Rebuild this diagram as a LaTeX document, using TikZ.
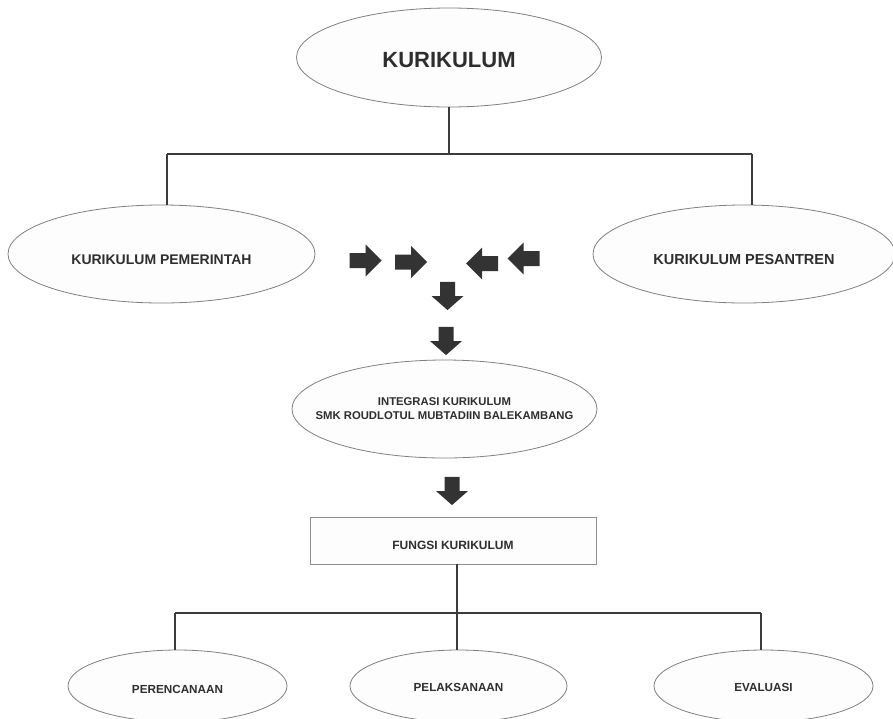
\documentclass[tikz,border=0pt]{standalone}
\usepackage{fontspec}
\setmainfont{Liberation Sans}
\usetikzlibrary{shapes.geometric}
\definecolor{linec}{HTML}{3C3C3C}
\definecolor{borderc}{HTML}{808080}
\definecolor{fillc}{HTML}{FDFDFD}
\definecolor{textc}{HTML}{2E2E2E}
\definecolor{arrowc}{HTML}{333333}
\tikzset{
  oval/.style={ellipse, draw=borderc, line width=0.8pt, fill=fillc, inner sep=0pt, text=textc, font=\bfseries, align=center},
  boxnode/.style={rectangle, draw=borderc!90, line width=1pt, fill=fillc, inner sep=0pt, text=textc, font=\bfseries},
  conn/.style={draw=linec, line width=1.8pt},
  blockarrow/.pic={\fill[arrowc] (-16,-7.5) -- (0,-7.5) -- (0,-16) -- (16,0) -- (0,16) -- (0,7.5) -- (-16,7.5) -- cycle;}
}
\begin{document}
\begin{tikzpicture}[x=1pt,y=-1pt]
\useasboundingbox (0,0) rectangle (893,718);
\fill[white] (0,0) rectangle (893,718);

% nodes
\node[oval, minimum width=305pt, minimum height=99pt, font=\bfseries\fontsize{22}{24}\selectfont, text height=20pt, text depth=0pt] (kur) at (449,57.5) {KURIKULUM};
\node[oval, minimum width=307pt, minimum height=98pt, font=\bfseries\fontsize{14}{16}\selectfont, text height=20pt, text depth=0pt] (pem) at (161.5,254) {KURIKULUM PEMERINTAH};
\node[oval, minimum width=302pt, minimum height=98pt, font=\bfseries\fontsize{14.5}{16}\selectfont, text height=20pt, text depth=0pt] (pes) at (744,254) {KURIKULUM PESANTREN};
\node[oval, minimum width=305pt, minimum height=98pt, inner xsep=-40pt, font=\bfseries\fontsize{11.3}{14}\selectfont] (integ) at (444.5,409) {INTEGRASI KURIKULUM\\SMK ROUDLOTUL MUBTADIIN BALEKAMBANG};
\node[boxnode, minimum width=286pt, minimum height=47pt, font=\bfseries\fontsize{12}{14}\selectfont, text height=17pt, text depth=0pt] (fungsi) at (453,540.5) {FUNGSI KURIKULUM};
\node[oval, minimum width=219pt, minimum height=72pt, font=\bfseries\fontsize{11.7}{14}\selectfont, text height=14pt, text depth=0pt] (per) at (177.5,686) {PERENCANAAN};
\node[oval, minimum width=217pt, minimum height=72pt, font=\bfseries\fontsize{11.7}{14}\selectfont, text height=10pt, text depth=0pt] (pel) at (458.5,686) {PELAKSANAAN};
\node[oval, minimum width=219pt, minimum height=72pt, font=\bfseries\fontsize{11.7}{14}\selectfont, text height=10pt, text depth=0pt] (eva) at (763.5,686) {EVALUASI};

% connectors top
\coordinate (b1L) at (167,154);
\coordinate (b1R) at (752,154);
\draw[conn] (kur.south) -- (kur.south |- b1L);
\draw[conn] (b1L) -- (b1R);
\draw[conn] (b1L) -- (b1L |- pem.north);
\draw[conn] (b1R) -- (b1R |- pes.north);

% connectors bottom
\coordinate (b2L) at (175,613);
\coordinate (b2R) at (761,613);
\coordinate (fdown) at (457,564);
\draw[conn] (fdown) -- (fdown |- b2L);
\draw[conn] (b2L) -- (b2R);
\draw[conn] (b2L) -- (b2L |- per.north);
\draw[conn] (fdown |- b2L) -- (fdown |- pel.north);
\draw[conn] (b2R) -- (b2R |- eva.north);

% block arrows
\pic at (365.5,260.5) {blockarrow};
\pic at (411,262) {blockarrow};
\pic[rotate=180] at (482,263.5) {blockarrow};
\pic[rotate=180] at (523.5,258.5) {blockarrow};
\pic[rotate=-90, xscale=0.88] at (447.5,296) {blockarrow};
\pic[rotate=-90, xscale=0.88] at (446,341) {blockarrow};
\pic[rotate=-90, xscale=0.88] at (452,491) {blockarrow};
\end{tikzpicture}
\end{document}
